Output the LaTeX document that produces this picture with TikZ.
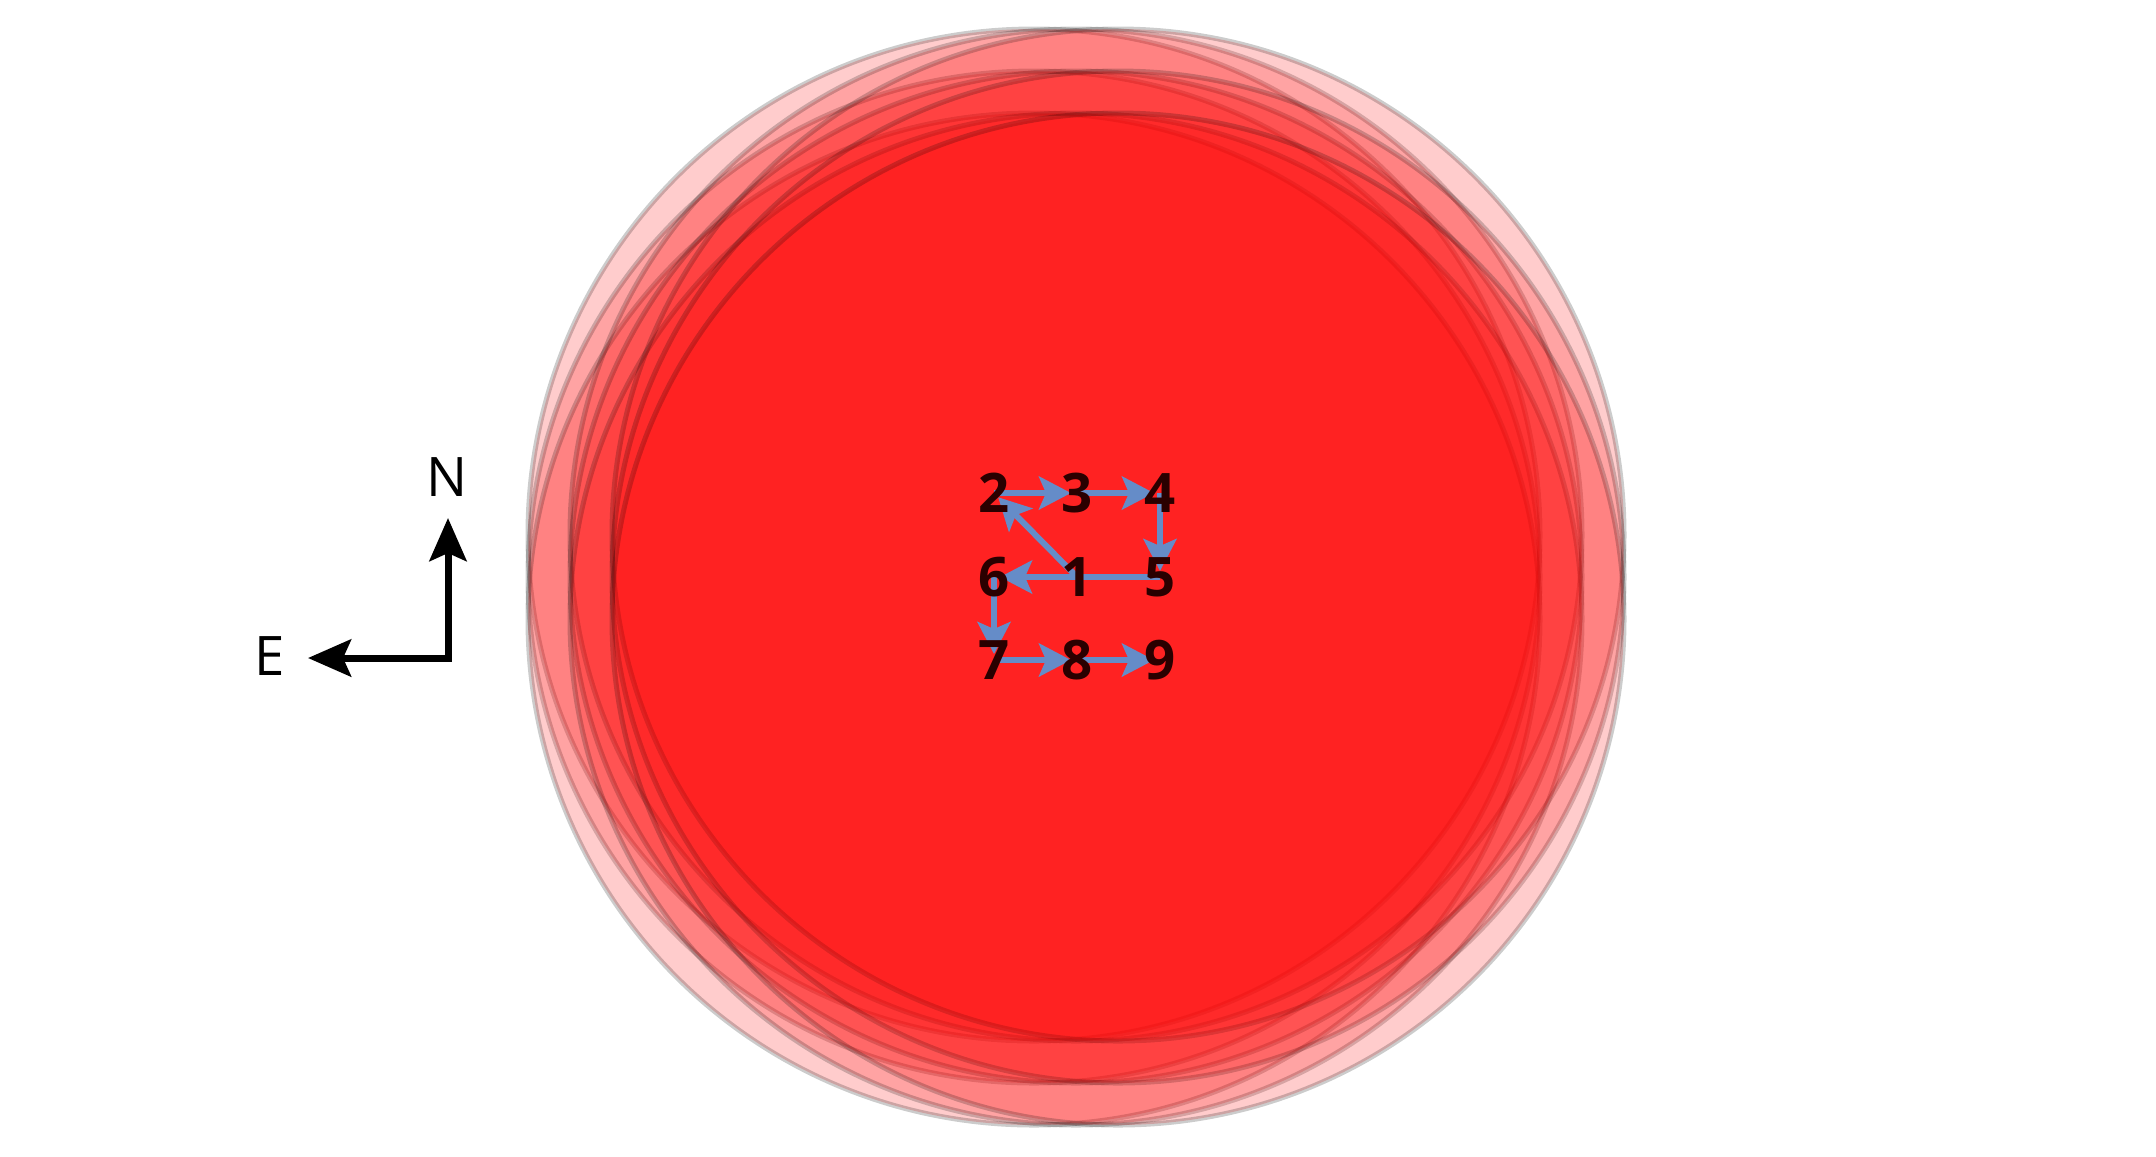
\documentclass[tikz,border=0pt]{standalone}
\usepackage{fontspec}
\setmainfont{Open Sans}
\usetikzlibrary{arrows.meta}
\definecolor{beamred}{RGB}{255, 0, 0}
\definecolor{scanblue}{RGB}{101, 140, 200}
\definecolor{posdark}{RGB}{42, 0, 0}
\pgfdeclarelayer{spots}
\pgfdeclarelayer{tracks}
\pgfsetlayers{spots,tracks,main}

\begin{document}
\begin{tikzpicture}[x=0.01cm, y=-0.01cm,
    spot/.style={fill=beamred, draw=black, line width=0.05cm, opacity=0.2},
    track/.style={draw=scanblue, line width=0.06cm, shorten >=0.06cm,
      -{Stealth[length=0.32cm, width=0.33cm, inset=0.07cm]}},
    posnum/.style={text=posdark, inner sep=0pt, font=\bfseries\fontsize{15.5}{18}\selectfont},
    compass/.style={line width=0.07cm,
      {Stealth[length=0.43cm, width=0.37cm, inset=0.08cm]}-{Stealth[length=0.43cm, width=0.37cm, inset=0.08cm]}},
    dirlabel/.style={inner sep=0pt, font=\fontsize{15.5}{18}\selectfont}]
  \useasboundingbox (0,0) rectangle (2156,1156);

  % beam spots, one per scan position
  \begin{pgfonlayer}{spots}
    \foreach \i in {-1,0,1}
      \foreach \j in {-1,0,1}
        \path[spot] (1076+42*\i, 577+42*\j) circle (506);
  \end{pgfonlayer}

  % scan positions
  \node[posnum] (n1) at (1077, 577) {1};
  \node[posnum] (n2) at (994, 493) {2};
  \node[posnum] (n3) at (1077, 493) {3};
  \node[posnum] (n4) at (1160, 493) {4};
  \node[posnum] (n5) at (1160, 577) {5};
  \node[posnum] (n6) at (994, 577) {6};
  \node[posnum] (n7) at (994, 660) {7};
  \node[posnum] (n8) at (1077, 660) {8};
  \node[posnum] (n9) at (1160, 660) {9};

  % scan order
  \begin{pgfonlayer}{tracks}
    \foreach \a/\b in {1/2, 2/3, 3/4, 4/5, 5/6, 6/7, 7/8, 8/9}
      \draw[track] (n\a.center) -- (n\b.center);
  \end{pgfonlayer}

  % compass
  \coordinate (corner) at (448, 658);
  \coordinate (ntip) at (448, 518);
  \coordinate (etip) at (308, 658);
  \draw[compass] (ntip) -- (corner) -- (etip);
  \node[dirlabel] (north) at (447, 477) {N};
  \node[dirlabel] (east) at (270, 656) {E};
\end{tikzpicture}
\end{document}
